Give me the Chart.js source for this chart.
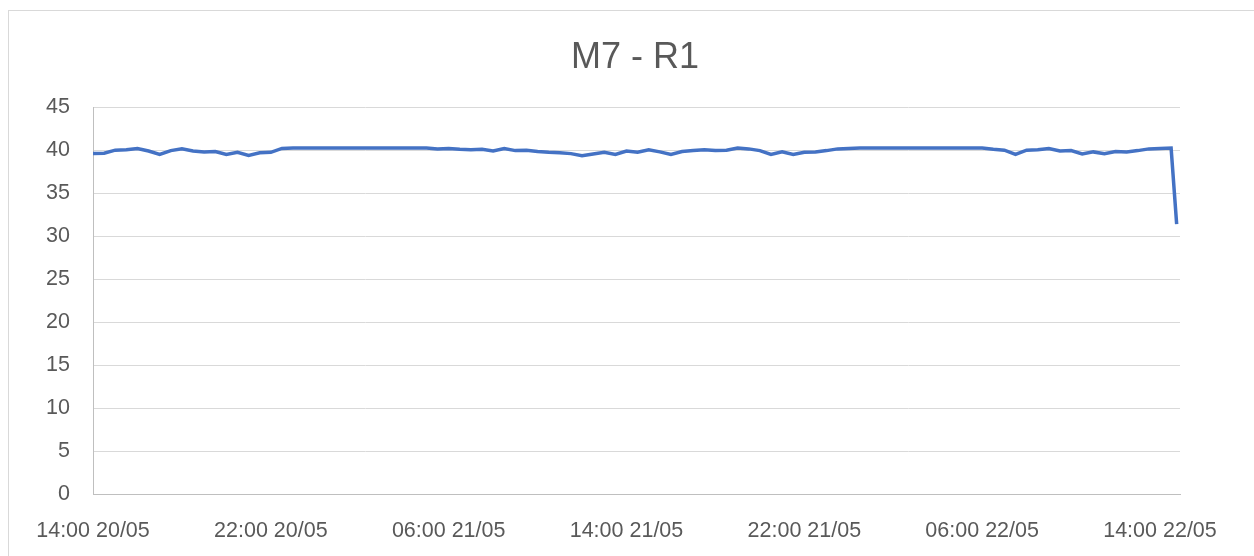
<!DOCTYPE html>
<html>
<head>
<meta charset="utf-8">
<script src="https://cdn.jsdelivr.net/npm/chart.js@4.4.0/dist/chart.umd.min.js"></script>
<style>
  html, body { margin: 0; padding: 0; background: #ffffff; }
  #wrap { position: relative; width: 1254px; height: 556px; overflow: hidden; }
  #frame { position: absolute; left: 8px; top: 10px; width: 1300px; height: 600px;
           border-left: 1px solid #d9d9d9; border-top: 1px solid #d9d9d9; }
  canvas { position: absolute; left: 0; top: 0; }
</style>
</head>
<body>
<div id="wrap">
  <div id="frame"></div>
  <canvas id="c" width="1254" height="556"></canvas>
</div>
<script>
// Title
const chartTitle = "M7 - R1";

// Hours since 14:00 20/05, one reading each half hour, plus the final reading at 14:45 22/05
const hours = [];
for (let k = 0; k <= 97; k++) hours.push(k * 0.5);
hours.push(48.75);

// Readings
const values = [
  39.6, 39.65, 40.0, 40.05, 40.2, 39.9, 39.5, 39.95, 40.15, 39.9,
  39.8, 39.85, 39.5, 39.75, 39.4, 39.7, 39.75, 40.2, 40.25, 40.25,
  40.25, 40.25, 40.25, 40.25, 40.25, 40.25, 40.25, 40.25, 40.25, 40.25,
  40.25, 40.15, 40.2, 40.1, 40.05, 40.1, 39.9, 40.2, 39.95, 40.0,
  39.85, 39.75, 39.7, 39.6, 39.35, 39.55, 39.75, 39.5, 39.9, 39.75,
  40.05, 39.8, 39.5, 39.85, 39.95, 40.05, 39.95, 40.0, 40.25, 40.15,
  39.95, 39.5, 39.8, 39.5, 39.75, 39.8, 39.95, 40.15, 40.2, 40.25,
  40.25, 40.25, 40.25, 40.25, 40.25, 40.25, 40.25, 40.25, 40.25, 40.25,
  40.25, 40.1, 40.0, 39.5, 40.0, 40.05, 40.2, 39.9, 39.95, 39.55,
  39.8, 39.6, 39.85, 39.8, 39.95, 40.15, 40.2, 40.25, 31.4
];

// X tick labels (every 8 hours)
const tickHours = [0, 8, 16, 24, 32, 40, 48];
const tickLabels = ["14:00 20/05", "22:00 20/05", "06:00 21/05", "14:00 21/05", "22:00 21/05", "06:00 22/05", "14:00 22/05"];

// Y ticks
const yMin = 0, yMax = 45, yStep = 5;

const points = hours.map((h, i) => ({ x: h, y: values[i] }));
const textColor = "#595959";
const fontFamily = "'Liberation Sans', 'DejaVu Sans', sans-serif";

new Chart(document.getElementById("c"), {
  type: "line",
  data: {
    datasets: [{
      data: points,
      borderColor: "#4472C4",
      borderWidth: 3.5,
      pointRadius: 0,
      tension: 0,
      fill: false
    }]
  },
  options: {
    responsive: false,
    animation: false,
    layout: { padding: { left: 16, right: 0, top: 0, bottom: 0 } },
    plugins: {
      legend: { display: false },
      tooltip: { enabled: false },
      title: {
        display: true,
        text: chartTitle,
        color: textColor,
        font: { family: fontFamily, size: 36, weight: "normal", lineHeight: 1.2 },
        padding: { top: 36, bottom: 28 }
      }
    },
    scales: {
      x: {
        type: "linear",
        min: 0,
        max: 48.9,
        afterBuildTicks: (scale) => { scale.ticks = tickHours.map(v => ({ value: v })); },
        afterFit: (scale) => { scale.height = 62; },
        grid: { display: false, drawTicks: false },
        border: { display: true, color: "#bfbfbf", width: 1 },
        ticks: {
          color: textColor,
          font: { family: fontFamily, size: 21.5 },
          padding: 24,
          maxRotation: 0,
          autoSkip: false,
          callback: (v) => { const i = tickHours.indexOf(v); return i >= 0 ? tickLabels[i] : ""; }
        }
      },
      y: {
        min: yMin,
        max: yMax,
        afterFit: (scale) => { scale.width = 77; },
        grid: { color: "#d9d9d9", lineWidth: 1, drawTicks: false },
        border: { display: true, color: "#bfbfbf", width: 1 },
        ticks: {
          stepSize: yStep,
          color: textColor,
          font: { family: fontFamily, size: 21.5 },
          padding: 23
        }
      },
      spacer: {
        position: "right",
        display: true,
        afterFit: (scale) => { scale.width = 74; },
        grid: { display: false, drawTicks: false },
        border: { display: false },
        ticks: { display: false }
      }
    }
  }
});
</script>
</body>
</html>
